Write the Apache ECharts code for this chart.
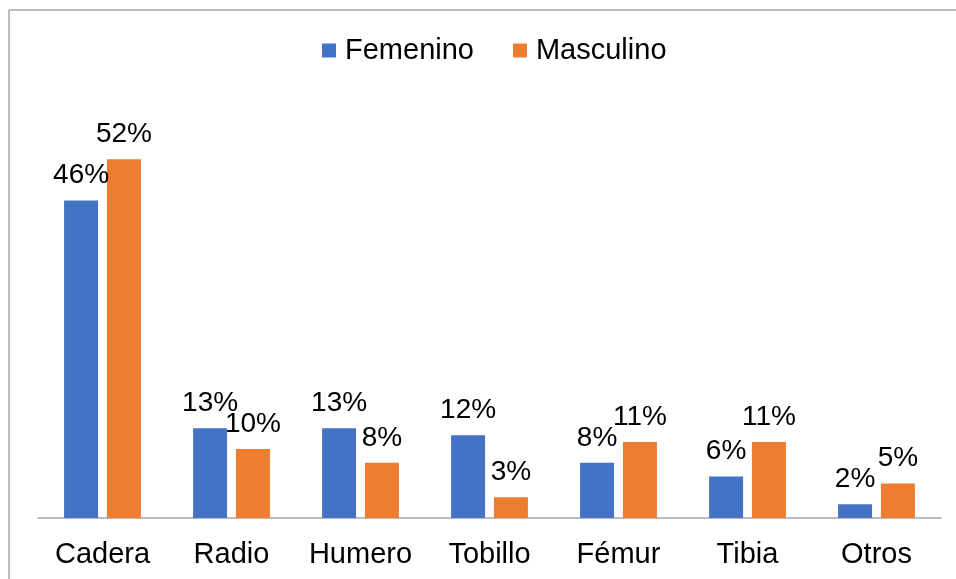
<!DOCTYPE html>
<html>
<head>
<meta charset="utf-8">
<script src="https://cdn.jsdelivr.net/npm/echarts@6/dist/echarts.min.js"></script>
<style>
html,body{margin:0;padding:0;background:#fff;}
#chart{width:956px;height:579px;}
</style>
</head>
<body>
<div id="chart"></div>
<script>
var categories = ['Cadera', 'Radio', 'Humero', 'Tobillo', 'Fémur', 'Tibia', 'Otros'];
var femenino = [46, 13, 13, 12, 8, 6, 2];
var masculino = [52, 10, 8, 3, 11, 11, 5];
var seriesNames = ['Femenino', 'Masculino'];

var FONT = '"Liberation Sans", Arial, sans-serif';
var chart = echarts.init(document.getElementById('chart'));
var labelCfg = {
  show: true,
  position: 'top',
  distance: 11,
  formatter: '{c}%',
  color: '#000',
  fontSize: 28,
  fontFamily: FONT
};
chart.setOption({
  animation: false,
  backgroundColor: '#fff',
  graphic: [
    {type: 'line', shape: {x1: 9, y1: 10, x2: 956, y2: 10}, style: {stroke: '#a6a6a6', lineWidth: 1.5}},
    {type: 'line', shape: {x1: 9, y1: 10, x2: 9, y2: 579}, style: {stroke: '#a6a6a6', lineWidth: 1.5}}
  ],
  legend: {
    left: 317,
    top: 31,
    icon: 'rect',
    itemWidth: 14,
    itemHeight: 14,
    itemGap: 39,
    textStyle: {fontSize: 29, color: '#000', fontFamily: FONT, padding: [0, 0, 0, 4]},
    data: seriesNames
  },
  grid: {left: 38, right: 15, top: 104, bottom: 61},
  xAxis: {
    type: 'category',
    data: categories,
    axisLine: {lineStyle: {color: '#a6a6a6', width: 1.5}},
    axisTick: {show: false},
    axisLabel: {fontSize: 29, color: '#000', fontFamily: FONT, margin: 22, interval: 0}
  },
  yAxis: {
    type: 'value',
    min: 0,
    max: 60,
    show: false,
    splitLine: {show: false}
  },
  series: [
    {
      name: seriesNames[0],
      type: 'bar',
      data: femenino,
      barWidth: 34,
      barGap: '26%',
      itemStyle: {color: '#4472C4'},
      label: labelCfg
    },
    {
      name: seriesNames[1],
      type: 'bar',
      data: masculino,
      barWidth: 34,
      barGap: '26%',
      itemStyle: {color: '#ED7D31'},
      label: labelCfg
    }
  ]
});
</script>
</body>
</html>
